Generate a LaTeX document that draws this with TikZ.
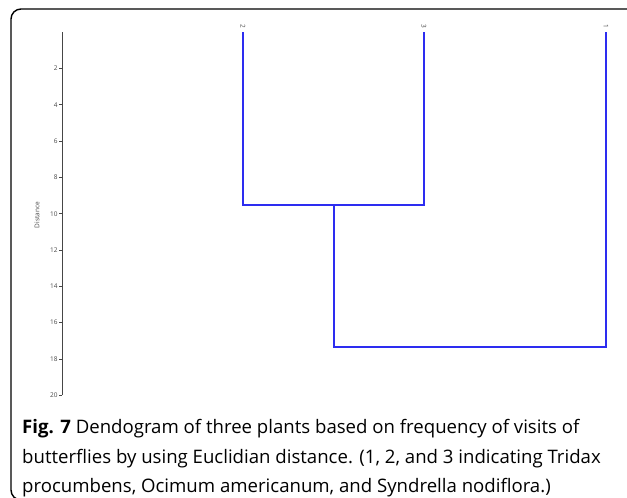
\documentclass[tikz,border=0pt]{standalone}
\usepackage{fontspec}
\setmainfont{Open Sans}
\definecolor{dendblue}{RGB}{45,45,240}
\definecolor{axgray}{RGB}{70,70,70}
\begin{document}
\begin{tikzpicture}[x=1pt,y=-1pt,
  frame/.style={line width=1.4pt,rounded corners=10pt,draw=black},
  axisline/.style={draw=axgray,line width=0.7pt},
  smalllab/.style={font=\fontsize{6.5}{7.5}\selectfont,text=axgray,inner sep=0.5pt},
  ticklab/.style={smalllab,anchor=east},
  leaflab/.style={smalllab,rotate=-90},
  dend/.style={draw=dendblue,line width=1.5pt},
  captext/.style={font=\fontsize{18.6}{22}\selectfont,anchor=base west,inner sep=0pt}]
\useasboundingbox (0,0) rectangle (627,498);
\clip (0,0) rectangle (627,498);
\draw[frame] (645,9) -- (11,9) -- (11,500) -- (645,500);
% axis
\coordinate (axtop) at (62,32.2);
\coordinate (axbot) at (62,395.2);
\draw[axisline] (axtop) -- (axbot);
\foreach \k in {2,4,...,20}{
  \coordinate (tk\k) at (62,{32.2+18.15*\k});
  \draw[axisline] (tk\k) -- ++(-3.5,0) node[ticklab] {\k};
}
\node[smalllab,rotate=90] (dist) at (37,215) {Distance};
% leaves
\node[leaflab] (l2) at (243,26) {2};
\node[leaflab] (l3) at (424,26) {3};
\node[leaflab] (l1) at (606,26) {1};
\coordinate (t2) at (243,32.2);
\coordinate (t3) at (424,32.2);
\coordinate (t1) at (606,32.2);
\coordinate (a2) at (243,205);
\coordinate (a3) at (424,205);
\coordinate (mid) at (334,205);
\coordinate (b1) at (606,347);
\draw[dend] (t2) -- (a2) -- (a3) -- (t3);
\draw[dend] (mid) |- (b1) -- (t1);
% caption
\node[captext] (c1) at (22,433) {\textbf{Fig. 7} Dendogram of three plants based on frequency of visits of};
\node[captext] (c2) at (22,463) {butterflies by using Euclidian distance. (1, 2, and 3 indicating Tridax};
\node[captext] (c3) at (22,492) {procumbens, Ocimum americanum, and Syndrella nodiflora.)};
\end{tikzpicture}
\end{document}
